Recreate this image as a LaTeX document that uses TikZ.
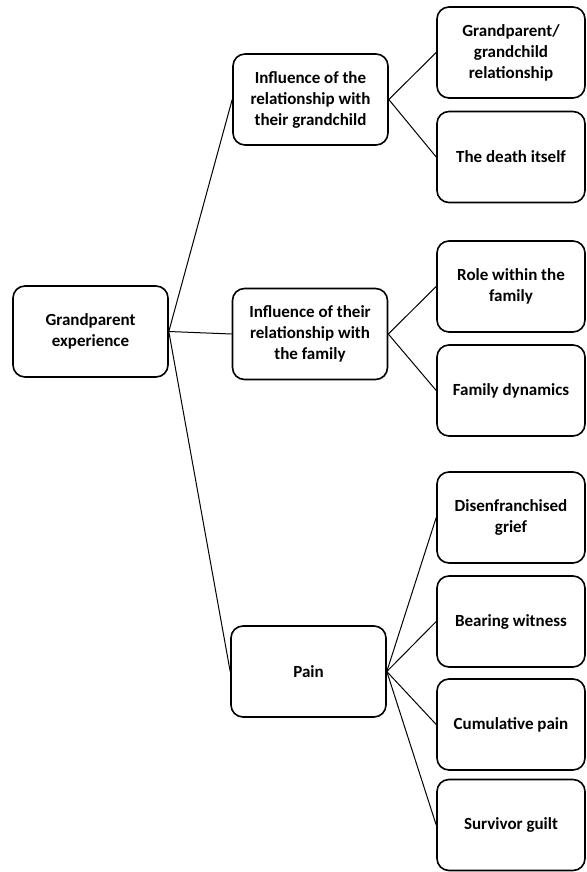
\documentclass[tikz,border=0pt]{standalone}
\usepackage{fontspec}
\setmainfont{Carlito}
\usepackage{tikz}
\usepackage{xcolor}

\begin{document}
\begin{tikzpicture}
    [x=0.5pt, y=-0.5pt,  % pixel grid of the scan
     box/.style={shape=rectangle, draw=black, fill=white, minimum width=77.5pt, minimum height=45.5pt, rounded corners=6pt, line width=0.8pt, align=center, inner sep=1pt, font=\fontsize{8.5}{10.5}\selectfont\bfseries},
     leaf/.style={box, minimum width=74pt},
     link/.style={draw=black, line width=0.5pt},
    ]

\useasboundingbox (0,0) rectangle (586,872);

\node[box] (node_root) at (90.5,331.5) {Grandparent\\experience};
\node[box] (node_grandchild) at (310.5,99.5) {Influence of the\\relationship with\\their grandchild};
\node[box] (node_family) at (310,334) {Influence of their\\relationship with\\the family};
\node[box] (node_pain) at (308.5,671.5) {Pain};

\node[leaf] (node_bond) at (511,52.5) {Grandparent/\\grandchild\\relationship};
\node[leaf] (node_death) at (511,157) {The death itself};
\node[leaf] (node_role) at (511,286.5) {Role within the\\family};
\node[leaf] (node_dynamics) at (511,390.5) {Family dynamics};
\node[leaf] (node_disenfranchised) at (511,517.5) {Disenfranchised\\grief};
\node[leaf] (node_witness) at (511,621.5) {Bearing witness};
\node[leaf] (node_cumulative) at (511,724.5) {Cumulative pain};
\node[leaf] (node_guilt) at (511,825) {Survivor guilt};

\draw[link] (node_root.east) -- (node_grandchild.west);
\draw[link] (node_root.east) -- (node_family.west);
\draw[link] (node_root.east) -- (node_pain.west);
\draw[link] (node_grandchild.east) -- (node_bond.west);
\draw[link] (node_grandchild.east) -- (node_death.west);
\draw[link] (node_family.east) -- (node_role.west);
\draw[link] (node_family.east) -- (node_dynamics.west);
\draw[link] (node_pain.east) -- (node_disenfranchised.west);
\draw[link] (node_pain.east) -- (node_witness.west);
\draw[link] (node_pain.east) -- (node_cumulative.west);
\draw[link] (node_pain.east) -- (node_guilt.west);

\end{tikzpicture}
\end{document}
